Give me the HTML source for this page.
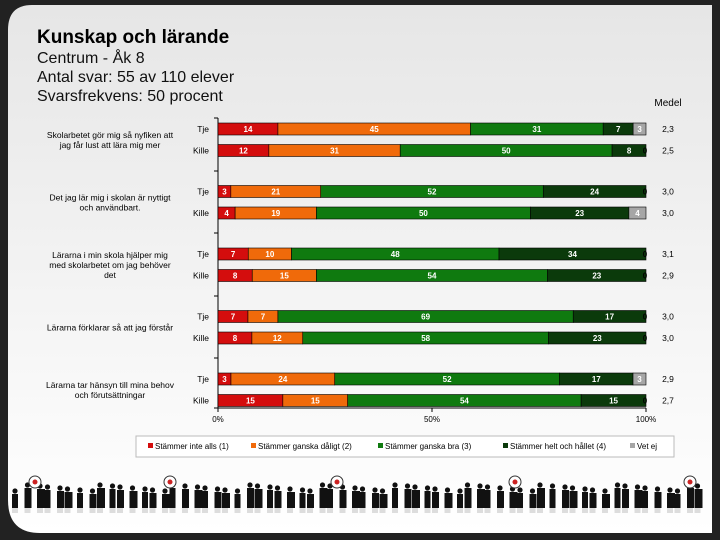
<!DOCTYPE html>
<html><head><meta charset="utf-8"><style>
body{margin:0;width:720px;height:540px;background:#222;overflow:hidden;font-family:"Liberation Sans",sans-serif}
svg{display:block}
</style></head><body>
<svg id="c" width="720" height="540" xmlns="http://www.w3.org/2000/svg">
<defs>
<linearGradient id="bg" x1="0" y1="0" x2="0" y2="1"><stop offset="0" stop-color="#e6e6e6"/><stop offset="0.8" stop-color="#fafafa"/><stop offset="1" stop-color="#ffffff"/></linearGradient>
</defs>
<path d="M32,5 H712 V533 H40 Q8,533 8,500 V30 Q8,5 32,5 Z" fill="url(#bg)"/>
<text x="37" y="43" font-size="19" font-weight="bold" fill="#000">Kunskap och lärande</text>
<text x="37" y="63" font-size="16" fill="#111">Centrum - Åk 8</text>
<text x="37" y="82" font-size="16" fill="#111">Antal svar: 55 av 110 elever</text>
<text x="37" y="101" font-size="16" fill="#111">Svarsfrekvens: 50 procent</text>
<text x="668" y="106" font-size="10" text-anchor="middle" fill="#000">Medel</text>
<g id="plot"></g>
<g id="people"></g>
</svg>
<script>
const questions=["Skolarbetet gör mig så nyfiken att|jag får lust att lära mig mer","Det jag lär mig i skolan är nyttigt|och användbart.","Lärarna i min skola hjälper mig|med skolarbetet om jag behöver|det","Lärarna förklarar så att jag förstår","Lärarna tar hänsyn till mina behov|och förutsättningar"];
const groups=["Tje","Kille"];
const s1=[14,12,3,4,7,8,7,8,3,15];
const s2=[45,31,21,19,10,15,7,12,24,15];
const s3=[31,50,52,50,48,54,69,58,52,54];
const s4=[7,8,24,23,34,23,17,23,17,15];
const s5=[3,0,0,4,0,0,0,0,3,0];
const means=["2,3","2,5","3,0","3,0","3,1","2,9","3,0","3,0","2,9","2,7"];
const ticks=[0,50,100];
const legendLabels=["Stämmer inte alls (1)","Stämmer ganska dåligt (2)","Stämmer ganska bra (3)","Stämmer helt och hållet (4)","Vet ej"];
const colors=["#d40d0d","#f06a0a","#0f7a0f","#0b3a0b","#a6a6a6"];
const NS="http://www.w3.org/2000/svg";
const X0=218,X1=646;
const xs=v=>X0+(X1-X0)*v/100;
const rowY=i=>129+Math.floor(i/2)*62.5+(i%2)*21.5;
const plot=document.getElementById('plot');
function mk(t,a,p){const e=document.createElementNS(NS,t);for(const k in a)e.setAttribute(k,a[k]);(p||plot).appendChild(e);return e;}
let ax=mk('line',{x1:X0,y1:118,x2:X0,y2:408,stroke:'#000','stroke-width':1});


[118,171,233,296,358,408].forEach(y=>{let t=mk('line',{x1:X0-4,y1:y,x2:X0,y2:y,stroke:'#000'});
 
 });
let bx=mk('line',{x1:X0,y1:408,x2:X1,y2:408,stroke:'#000'});


ticks.forEach(v=>{let t=mk('line',{x1:xs(v),y1:408,x2:xs(v),y2:412,stroke:'#000'});
 
 
 let l=mk('text',{x:xs(v),y:422,'font-size':8,'text-anchor':'middle'});l.textContent=v+'%';
 
 });
questions.forEach((q,qi)=>{const lines=q.split('|');const cy=(rowY(qi*2)+rowY(qi*2+1))/2;
 lines.forEach((ln,li)=>{let t=mk('text',{x:110,y:cy+3+(li-(lines.length-1)/2)*10,'font-size':8.5,'text-anchor':'middle',fill:'#000'});t.textContent=ln;
 
 });});
const series=[s1,s2,s3,s4,s5];
for(let i=0;i<10;i++){const y=rowY(i);
 let g=mk('text',{x:209,y:y+3,'font-size':8.5,'text-anchor':'end'});g.textContent=groups[i%2];
 
 
 const tot=series.reduce((a,s)=>a+s[i],0);let acc=0;
 series.forEach((s,si)=>{const v=s[i];const x=xs(acc/tot*100),w=xs((acc+v)/tot*100)-x;acc+=v;
  if(v>0){let r=mk('rect',{x:x,y:y-6,width:w,height:12,fill:colors[si],stroke:'#000','stroke-width':0.6});
   
   }
  if(v>0||si==4){let t=mk('text',{x:v>0?x+w/2:X1-1,y:y+3,'font-size':8,'font-weight':'bold','text-anchor':'middle',fill:v>0?'#fff':'#000'});t.textContent=v;
   
   }});
 let m=mk('text',{x:668,y:y+3,'font-size':8.5,'text-anchor':'middle'});m.textContent=means[i];
 
 }
let lb=mk('rect',{x:136,y:436,width:538,height:21,fill:'#fff',stroke:'#bbb'});


const lx=[148,251,378,503,630];
legendLabels.forEach((l,i)=>{let r=mk('rect',{x:lx[i],y:443,width:5,height:5,fill:colors[i]});
 
 
 let t=mk('text',{x:lx[i]+7,y:449,'font-size':8});t.textContent=l;
 
 });
const pg=document.getElementById('people');
for(let k=0;k<66;k++){const x=14+k*10.5+((k*7)%5)-2;const h=20+((k*13)%7);const top=508-h;
 mk('circle',{cx:x+3,cy:top+3,r:2.6,fill:'#111'},pg);
 mk('rect',{x:x,y:top+6,width:6+(k%3),height:h-6,fill:'#111'},pg);
 mk('rect',{x:x,y:508,width:6,height:5,fill:'#bbb',opacity:0.5},pg);}
[35,170,337,515,690].forEach(x=>{mk('circle',{cx:x,cy:482,r:6,fill:'#fff',stroke:'#333'},pg);mk('circle',{cx:x,cy:482,r:2.5,fill:'#c22'},pg);});
</script>
</body></html>
